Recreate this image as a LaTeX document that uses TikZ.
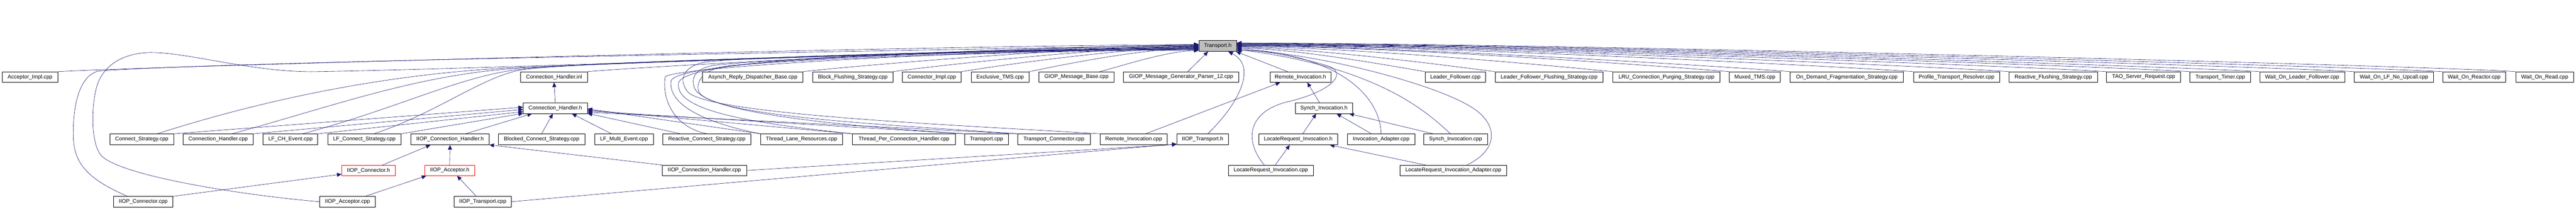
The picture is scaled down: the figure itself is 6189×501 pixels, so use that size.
\documentclass[tikz,border=0pt]{standalone}
\usepackage{fontspec}
\setmainfont{Liberation Sans}
\usetikzlibrary{arrows.meta}
\definecolor{edgeblue}{HTML}{191970}
\definecolor{nodegray}{HTML}{BFBFBF}
\newcommand\dfont{\fontsize{13}{15}\selectfont}
\pgfdeclarelayer{bg}
\pgfsetlayers{bg,main}
\begin{document}
\begin{tikzpicture}[x=1pt,y=-1pt,
  box/.style={draw=black, line width=0.9pt, fill=white, minimum height=25pt, inner sep=0pt, font=\dfont},
  redbox/.style={box, draw=red},
  e/.style={draw=edgeblue, line width=0.75pt, -{Triangle[length=11pt,width=9.5pt]}}]
\useasboundingbox (0,0) rectangle (6189,501);
% row 0
\node[box, fill=nodegray, minimum width=91pt, minimum height=26pt] (T) at (2925.8,110.3) {Transport.h};
% row 1
\def\ra{184.8}
\node[box, minimum width=134.3pt] (AImpl) at (72.2,\ra) {Acceptor\_Impl.cpp};
\node[box, minimum width=160.3pt] (CHinl) at (1331.2,\ra) {Connection\_Handler.inl};
\node[box, minimum width=241.3pt] (ARDB) at (1808.7,\ra) {Asynch\_Reply\_Dispatcher\_Base.cpp};
\node[box, minimum width=193pt] (BFS) at (2048.8,\ra) {Block\_Flushing\_Strategy.cpp};
\node[box, minimum width=141pt] (CImpl) at (2238.8,\ra) {Connector\_Impl.cpp};
\node[box, minimum width=139pt] (ExTMS) at (2402.8,\ra) {Exclusive\_TMS.cpp};
\node[box, minimum width=180pt] (GMB) at (2586.3,\ra) {GIOP\_Message\_Base.cpp};
\node[box, minimum width=277.3pt] (GMGP) at (2837.7,\ra) {GIOP\_Message\_Generator\_Parser\_12.cpp};
\node[box, minimum width=146.3pt] (RIh) at (3124.2,\ra) {Remote\_Invocation.h};
\node[box, minimum width=145.3pt] (LFcpp) at (3496.7,\ra) {Leader\_Follower.cpp};
\node[box, minimum width=259.3pt] (LFFS) at (3721.7,\ra) {Leader\_Follower\_Flushing\_Strategy.cpp};
\node[box, minimum width=257.3pt] (LRU) at (4003.7,\ra) {LRU\_Connection\_Purging\_Strategy.cpp};
\node[box, minimum width=122.3pt] (Muxed) at (4216.2,\ra) {Muxed\_TMS.cpp};
\node[box, minimum width=272.3pt] (ODFS) at (4437.2,\ra) {On\_Demand\_Fragmentation\_Strategy.cpp};
\node[box, minimum width=207.3pt] (PTR) at (4700.7,\ra) {Profile\_Transport\_Resolver.cpp};
\node[box, minimum width=212.3pt] (RFS) at (4933.2,\ra) {Reactive\_Flushing\_Strategy.cpp};
\node[box, minimum width=178.3pt] (TSR) at (5150.2,\ra) {TAO\_Server\_Request.cpp};
\node[box, minimum width=146.3pt] (TTimer) at (5334.2,\ra) {Transport\_Timer.cpp};
\node[box, minimum width=204.3pt] (WOLF) at (5531.2,\ra) {Wait\_On\_Leader\_Follower.cpp};
\node[box, minimum width=191pt] (WOLFNU) at (5751.5,\ra) {Wait\_On\_LF\_No\_Upcall.cpp};
\node[box, minimum width=152pt] (WORe) at (5944.3,\ra) {Wait\_On\_Reactor.cpp};
\node[box, minimum width=139.3pt] (WORd) at (6113.7,\ra) {Wait\_On\_Read.cpp};
% row 2
\def\rb{259.8}
\node[box, minimum width=154.3pt] (CHh) at (1334.2,\rb) {Connection\_Handler.h};
\node[box, minimum width=137.3pt] (SIh) at (3180.7,\rb) {Synch\_Invocation.h};
% row 3
\def\rc{334.3}
\node[box, minimum width=153.3pt, minimum height=26pt] (CS) at (340.7,\rc) {Connect\_Strategy.cpp};
\node[box, minimum width=168.3pt, minimum height=26pt] (CHcpp) at (524.2,\rc) {Connection\_Handler.cpp};
\node[box, minimum width=131pt, minimum height=26pt] (LFCH) at (697.8,\rc) {LF\_CH\_Event.cpp};
\node[box, minimum width=176pt, minimum height=26pt] (LFCS) at (875.3,\rc) {LF\_Connect\_Strategy.cpp};
\node[box, minimum width=188pt, minimum height=26pt] (IICHh) at (1081.3,\rc) {IIOP\_Connection\_Handler.h};
\node[box, minimum width=208.3pt, minimum height=26pt] (BCS) at (1301.2,\rc) {Blocked\_Connect\_Strategy.cpp};
\node[box, minimum width=140.3pt, minimum height=26pt] (LFME) at (1499.2,\rc) {LF\_Multi\_Event.cpp};
\node[box, minimum width=212pt, minimum height=26pt] (RCS) at (1698.3,\rc) {Reactive\_Connect\_Strategy.cpp};
\node[box, minimum width=197pt, minimum height=26pt] (TLR) at (1925.8,\rc) {Thread\_Lane\_Resources.cpp};
\node[box, minimum width=247pt, minimum height=26pt] (TPCH) at (2171.8,\rc) {Thread\_Per\_Connection\_Handler.cpp};
\node[box, minimum width=106.3pt, minimum height=26pt] (Tcpp) at (2370.2,\rc) {Transport.cpp};
\node[box, minimum width=174.3pt, minimum height=26pt] (TC) at (2532.2,\rc) {Transport\_Connector.cpp};
\node[box, minimum width=161.3pt, minimum height=26pt] (RIcpp) at (2723.7,\rc) {Remote\_Invocation.cpp};
\node[box, minimum width=124pt, minimum height=26pt] (IITh) at (2889.3,\rc) {IIOP\_Transport.h};
\node[box, minimum width=189.3pt, minimum height=26pt] (LRIh) at (3118.7,\rc) {LocateRequest\_Invocation.h};
\node[box, minimum width=162.3pt, minimum height=26pt] (IAcpp) at (3318.2,\rc) {Invocation\_Adapter.cpp};
\node[box, minimum width=152.3pt, minimum height=26pt] (SIcpp) at (3497.2,\rc) {Synch\_Invocation.cpp};
% row 4
\def\rd{408.8}
\node[redbox, minimum width=128.3pt] (IICh) at (885.2,\rd) {IIOP\_Connector.h};
\node[redbox, minimum width=120pt] (IIAh) at (1080.3,\rd) {IIOP\_Acceptor.h};
\node[box, minimum width=202.4pt] (IICHcpp) at (1692.5,\rd) {IIOP\_Connection\_Handler.cpp};
\node[box, minimum width=204.3pt] (LRIcpp) at (3053.2,\rd) {LocateRequest\_Invocation.cpp};
\node[box, minimum width=257.3pt] (LRIAcpp) at (3491.7,\rd) {LocateRequest\_Invocation\_Adapter.cpp};
% row 5
\def\re{483.8}
\node[box, minimum width=143.4pt] (IICcpp) at (344,\re) {IIOP\_Connector.cpp};
\node[box, minimum width=133pt] (IIAcpp) at (834.8,\re) {IIOP\_Acceptor.cpp};
\node[box, minimum width=137pt] (IITcpp) at (1159.8,\re) {IIOP\_Transport.cpp};

\begin{pgfonlayer}{bg}
% row 1 left -> Transport.h
\draw[e] (AImpl.north east) .. controls +(150,-10) and +(-700,2) .. (T.176);
\draw[e] (CHinl.north east) .. controls +(100,-10) and +(-450,2) .. (T.178);
\draw[e] (ARDB.north east) .. controls +(80,-10) and +(-300,2) .. (T.180);
\draw[e] (BFS.north east) .. controls +(70,-10) and +(-250,2) .. (T.182);
\draw[e] (CImpl.north east) .. controls +(60,-10) and +(-200,2) .. (T.184);
\draw[e] (ExTMS.north east) .. controls +(50,-10) and +(-150,2) .. (T.186);
\draw[e] (GMB.13) .. controls +(40,-10) and +(-80,2) .. (T.193);
% row 1 right -> Transport.h
\draw[e] (LFcpp.north west) .. controls +(-60,-10) and +(150,2) .. (T.-6);
\draw[e] (LFFS.north west) .. controls +(-80,-10) and +(200,2) .. (T.-4);
\draw[e] (LRU.north west) .. controls +(-100,-10) and +(300,2) .. (T.-2);
\draw[e] (Muxed.north west) .. controls +(-120,-10) and +(400,2) .. (T.0);
\draw[e] (ODFS.north west) .. controls +(-120,-10) and +(400,2) .. (T.1);
\draw[e] (PTR.north west) .. controls +(-130,-10) and +(500,2) .. (T.2);
\draw[e] (RFS.north west) .. controls +(-130,-10) and +(550,2) .. (T.3);
\draw[e] (TSR.north west) .. controls +(-140,-10) and +(600,2) .. (T.4);
\draw[e] (TTimer.north west) .. controls +(-140,-10) and +(650,2) .. (T.5);
\draw[e] (WOLF.north west) .. controls +(-150,-10) and +(700,2) .. (T.6);
\draw[e] (WOLFNU.north west) .. controls +(-150,-10) and +(750,2) .. (T.7);
\draw[e] (WORe.north west) .. controls +(-150,-10) and +(800,2) .. (T.8);
\draw[e] (WORd.north west) .. controls +(-150,-12) and +(850,2) .. (T.9);
% close nodes -> Transport.h
\draw[e] (GMGP.39) -- (T.210);
\draw[e] (RIh.157) -- (T.-17);
\draw[e] (IITh.47) .. controls (2975,250) and (3022,160) .. (T.332);
% right curves -> Transport.h
\draw[e] (IAcpp.north) .. controls (3315,220) and (3200,130) .. (T.-8);
\draw[e] (SIcpp.133) .. controls (3420,260) and (3300,160) .. (T.-10);
\draw[e] (LRIAcpp.22) .. controls (3600,360) and (3600,300) .. (3540,260) .. controls (3450,200) and (3150,125) .. (T.-12);
\draw[e] (LRIcpp.140) .. controls (2990,340) and (2995,270) .. (3090,245) .. controls (3200,220) and (3240,175) .. (3190,158) .. controls (3130,140) and (3030,118) .. (T.-14);
% left row 3 -> Transport.h
\draw[e] (CS.20) .. controls (600,250) and (900,178) .. (1240,162) .. controls (1550,150) and (2400,120) .. (T.179);
\draw[e] (CHcpp.22) .. controls (800,255) and (1000,180) .. (1240,164) .. controls (1500,147) and (2400,121) .. (T.181);
\draw[e] (LFCH.25) .. controls (950,262) and (1100,185) .. (1243,167) .. controls (1400,148) and (2400,122) .. (T.183);
\draw[e] (LFCS.30) .. controls (1050,270) and (1150,190) .. (1245,169) .. controls (1350,146) and (2400,123) .. (T.185);
% row 5 -> Transport.h (around the left)
\draw[e] (IICcpp.161) .. controls (200,425) and (176,385) .. (176,320) .. controls (176,230) and (200,176) .. (240,170) .. controls (600,145) and (2400,118) .. (T.177);
\draw[e] (IIAcpp.west) .. controls (600,470) and (300,425) .. (245,375) .. controls (215,345) and (220,240) .. (235,200) .. controls (250,160) and (290,128) .. (360,126) .. controls (450,125) and (600,172) .. (750,172) .. controls (1200,165) and (2400,118) .. (T.175);
% middle row 3 -> Transport.h (hooks)
\draw[e] (RCS.north) .. controls (1620,305) and (1590,240) .. (1598,185) .. controls (1603,160) and (2400,117) .. (T.187);
\draw[e] (TLR.north west) .. controls (1720,300) and (1605,260) .. (1612,195) .. controls (1620,140) and (2400,118) .. (T.188);
\draw[e] (TPCH.north west) .. controls (1800,295) and (1622,265) .. (1630,200) .. controls (1640,130) and (2400,119) .. (T.189);
\draw[e] (RIcpp.north west) .. controls (2300,300) and (1700,275) .. (1652,220) .. controls (1625,185) and (1650,155) .. (1700,148) .. controls (1900,130) and (2500,120) .. (T.191);
\draw[e] (Tcpp.north west) .. controls (2000,300) and (1690,270) .. (1668,210) .. controls (1660,185) and (1670,160) .. (1730,155) .. controls (1950,135) and (2500,121) .. (T.190);
\draw[e] (TC.north west) .. controls (2150,300) and (1700,280) .. (1678,218) .. controls (1672,195) and (1690,165) .. (1750,158) .. controls (1950,138) and (2500,122) .. (T.192);
% -> Connection_Handler.h
\draw[e] (CS.north east) -- (CHh.178);
\draw[e] (CHcpp.north east) -- (CHh.182);
\draw[e] (LFCH.north east) -- (CHh.186);
\draw[e] (LFCS.north east) -- (CHh.189);
\draw[e] (IICHh.20) -- (CHh.193);
\draw[e] (BCS.north) -- (CHh.245);
\draw[e] (LFME.156) -- (CHh.-18);
\draw[e] (RCS.168) -- (CHh.-9.5);
\draw[e] (TLR.north west) -- (CHh.-1);
\draw[e] (TPCH.north west) -- (CHh.-3);
\draw[e] (Tcpp.north west) -- (CHh.-5);
\draw[e] (TC.north west) -- (CHh.-7);
\draw[e] (CHh.north) -- (CHinl.south);
% IIOP
\draw[e] (IICh.21) -- (IICHh.196);
\draw[e] (IIAh.north) -- (IICHh.south);
\draw[e] (IICHcpp.north west) -- (IICHh.-8);
\draw[e] (IICcpp.north east) -- (IICh.188);
\draw[e] (IIAcpp.17) -- (IIAh.193);
\draw[e] (IITcpp.140) -- (IIAh.-36);
\draw[e] (IITcpp.east) -- (IITh.190);
\draw[e] (IICHcpp.east) -- (IITh.191);
% invocations
\draw[e] (RIcpp.25) -- (RIh.195);
\draw[e] (SIh.128) -- (RIh.-38);
\draw[e] (LRIh.50) -- (SIh.215);
\draw[e] (IAcpp.150) -- (SIh.-23);
\draw[e] (SIcpp.166) -- (SIh.-12);
\draw[e] (LRIAcpp.169) -- (LRIh.-10);
\draw[e] (LRIcpp.51) -- (LRIh.214);
\end{pgfonlayer}
\end{tikzpicture}
\end{document}
